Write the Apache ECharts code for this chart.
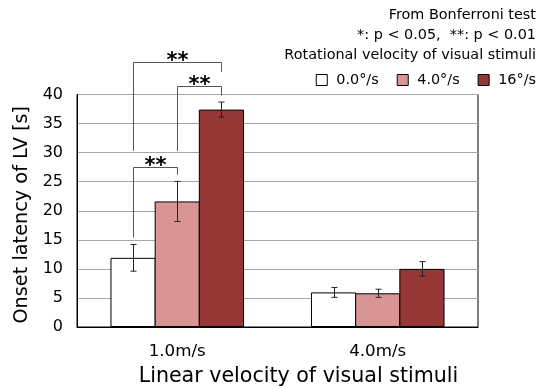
<!DOCTYPE html>
<html><head><meta charset="utf-8">
<script src="https://cdn.jsdelivr.net/npm/echarts@6/dist/echarts.min.js"></script>
<style>html,body{margin:0;padding:0;background:#fff}#c{width:549px;height:387px}</style>
</head><body><div id="c"></div>
<script>
const categories = ['1.0m/s', '4.0m/s'];
const seriesNames = ['0.0°/s', '4.0°/s', '16°/s'];
const values0 = [11.9, 5.95];
const values4 = [21.6, 5.8];
const values16 = [37.4, 10.0];
const errors0 = [2.3, 0.85];
const errors4 = [3.45, 0.7];
const errors16 = [1.3, 1.25];
const colors = ['#ffffff', '#d99594', '#953735'];
const yTicks = [0, 5, 10, 15, 20, 25, 30, 35, 40];
// significance brackets: [category, fromBar, toBar, topValue, leftLegEnd, rightLegEnd, label]
const brackets = [
  [0, 0, 2, 45.6, 30.3, 43.9, '**'],
  [0, 1, 2, 41.4, 30.3, 39.8, '**'],
  [0, 0, 1, 27.6, 15.4, 26.2, '**']
];
const noteLines = ['From Bonferroni test', '*: p < 0.05,  **: p < 0.01', 'Rotational velocity of visual stimuli'];

const FONT = '"DejaVu Sans", sans-serif';
const catGap = 0.334;
const barGapRatio = -0.022;
const allVals = [values0, values4, values16];
const allErr = [errors0, errors4, errors16];

function barOffset(api, barIdx) {
  const bw = api.size([1, 0])[0];
  const w = bw * (1 - catGap) / (3 + 2 * barGapRatio);
  return (barIdx - 1) * w * (1 + barGapRatio);
}

const errData = [];
for (let s = 0; s < 3; s++) for (let c = 0; c < categories.length; c++) errData.push([c, s, allVals[s][c], allErr[s][c]]);

const noteTops = [8, 28, 48];
const chart = echarts.init(document.getElementById('c'));
chart.setOption({
  animation: false,
  textStyle: { fontFamily: FONT },
  title: noteLines.map((t, i) => ({
    text: t, right: 13, top: noteTops[i], padding: 0,
    textStyle: { fontSize: 14.4, fontWeight: 'normal', color: '#000', fontFamily: FONT }
  })),
  legend: {
    right: 13, top: 73, padding: 0, itemWidth: 11, itemHeight: 11, itemGap: 18, icon: 'rect',
    itemStyle: { borderColor: '#000', borderWidth: 1 },
    textStyle: { fontSize: 14.4, color: '#000', fontFamily: FONT, padding: [0, 0, 0, 4] },
    data: seriesNames
  },
  grid: { left: 77, right: 71, top: 94.5, bottom: 60, show: true, borderColor: '#000', borderWidth: 1, outerBoundsMode: 'none', containLabel: false },
  xAxis: {
    type: 'category', data: categories,
    name: 'Linear velocity of visual stimuli', nameLocation: 'middle', nameGap: 39,
    nameTextStyle: { fontSize: 20.6, color: '#000', padding: [0, 0, 0, 42] },
    axisLine: { lineStyle: { color: '#000' } }, axisTick: { show: false },
    axisLabel: { fontSize: 16.7, color: '#000', margin: 16 }
  },
  yAxis: {
    type: 'value', min: 0, max: 40, interval: 5,
    name: 'Onset latency of LV [s]', nameLocation: 'middle', nameGap: 37,
    nameTextStyle: { fontSize: 19.3, color: '#000', padding: [0, 8, 0, 0] },
    axisLine: { show: true, lineStyle: { color: '#000' } }, axisTick: { show: false },
    axisLabel: { fontSize: 16, color: '#000', margin: 14 },
    splitLine: { lineStyle: { color: '#a6a6a6', width: 1 } }
  },
  series: [
    ...seriesNames.map((n, i) => ({
      name: n, type: 'bar', data: allVals[i], barGap: (barGapRatio * 100) + '%', barCategoryGap: (catGap * 100) + '%',
      itemStyle: { color: colors[i], borderColor: '#000', borderWidth: 1 }
    })),
    {
      type: 'custom', data: errData, clip: false, z: 10, silent: true,
      renderItem: function (params, api) {
        const c = api.value(0), s = api.value(1), m = api.value(2), e = api.value(3);
        const off = barOffset(api, s);
        const t = api.coord([c, m + e]); const b = api.coord([c, m - e]);
        const x = Math.round(t[0] + off) + 0.5;
        const cap = 3;
        const st = { stroke: '#222', lineWidth: 1 };
        return { type: 'group', children: [
          { type: 'line', shape: { x1: x, y1: t[1], x2: x, y2: b[1] }, style: st },
          { type: 'line', shape: { x1: x - cap, y1: t[1], x2: x + cap, y2: t[1] }, style: st },
          { type: 'line', shape: { x1: x - cap, y1: b[1], x2: x + cap, y2: b[1] }, style: st }
        ] };
      }
    },
    {
      type: 'custom', data: brackets, clip: false, z: 11, silent: true,
      renderItem: function (params, api) {
        const c = api.value(0), f = api.value(1), to = api.value(2);
        const top = api.coord([c, api.value(3)]);
        const lEnd = api.coord([c, api.value(4)]);
        const rEnd = api.coord([c, api.value(5)]);
        const xl = Math.round(top[0] + barOffset(api, f)) + 0.5, xr = Math.round(top[0] + barOffset(api, to)) + 0.5;
        const ty = Math.round(top[1]) + 0.5;
        const st = { stroke: '#555', lineWidth: 1 };
        return { type: 'group', children: [
          { type: 'polyline', shape: { points: [[xl, lEnd[1]], [xl, ty], [xr, ty], [xr, rEnd[1]]] }, style: Object.assign({ fill: null }, st) },
          { type: 'text', style: { text: brackets[params.dataIndex][6], x: (xl + xr) / 2, y: ty + 10, align: 'center', verticalAlign: 'bottom', fontSize: 21, fontWeight: 'bold', fontFamily: 'DejaVu Sans', fill: '#000' } }
        ] };
      }
    }
  ]
});
</script></body></html>
